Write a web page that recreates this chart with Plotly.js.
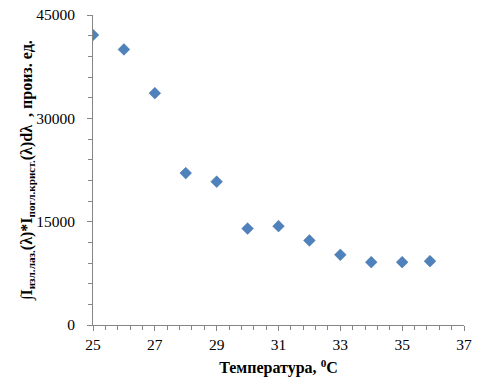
<!DOCTYPE html>
<html>
<head>
<meta charset="utf-8">
<script src="https://cdn.plot.ly/plotly-3.0.1.min.js"></script>
<style>html,body{margin:0;padding:0;background:#fff;}#chart{width:486px;height:392px;}</style>
</head>
<body>
<div id="chart"></div>
<script>
var temperature = [25, 26, 27, 28, 29, 30, 31, 32, 33, 34, 35, 35.9];
var integralValue = [42100, 40000, 33650, 22050, 20800, 14000, 14350, 12270, 10190, 9120, 9120, 9260];
var yTicks = [0, 15000, 30000, 45000];
var xTicks = [25, 27, 29, 31, 33, 35, 37];

var trace = {
  x: temperature,
  y: integralValue,
  type: 'scatter',
  mode: 'markers',
  marker: {symbol: 'diamond', size: 9, color: '#4F81BD', line: {color: '#41719C', width: 0.5}},
  showlegend: false,
  hoverinfo: 'x+y'
};

var fam = '"Liberation Serif", "Times New Roman", serif';
var axisFont = {family: fam, size: 15.5, color: '#000'};
var layout = {
  width: 486, height: 392,
  margin: {l: 93, r: 22, t: 15, b: 67},
  paper_bgcolor: '#fff', plot_bgcolor: '#fff',
  xaxis: {
    range: [25, 37], tickvals: xTicks, ticktext: xTicks.map(String),
    showgrid: false, zeroline: false, showline: true, linecolor: '#868686', linewidth: 1,
    ticks: 'outside', ticklen: 5, tickcolor: '#868686',
    minor: {dtick: 0.4, tick0: 25, ticks: 'outside', ticklen: 4, tickcolor: '#868686', showgrid: false},
    tickfont: axisFont,
    title: {text: '<b>Температура, <sup>0</sup>С</b>', font: {family: fam, size: 16, color: '#000'}, standoff: 10}
  },
  yaxis: {
    range: [0, 45000], tickvals: yTicks, ticktext: yTicks.map(String),
    showgrid: false, zeroline: false, showline: true, linecolor: '#868686', linewidth: 1,
    ticks: 'outside', ticklen: 5, tickcolor: '#868686', ticklabelstandoff: 9,
    minor: {dtick: 3000, tick0: 0, ticks: 'outside', ticklen: 4, tickcolor: '#868686', showgrid: false},
    tickfont: axisFont
  },
  annotations: [{
    text: '<b>∫I<sub>изл.лаз.</sub>(λ)*I<sub>погл.крист.</sub>(λ)dλ&nbsp;&nbsp;, произ. ед.</b>',
    xref: 'paper', yref: 'paper', x: -0.178, y: 0.5, xanchor: 'center', yanchor: 'middle',
    textangle: -90, showarrow: false, font: {family: fam, size: 16, color: '#000'}
  }]
};

Plotly.newPlot('chart', [trace], layout, {displayModeBar: false, staticPlot: true});
</script>
</body>
</html>
